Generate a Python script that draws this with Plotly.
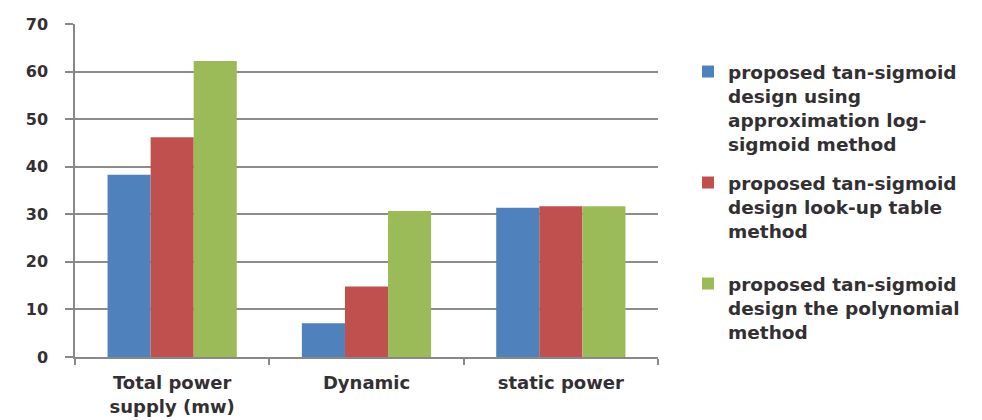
import plotly.graph_objects as go

categories = ["Total power<br>supply (mw)", "Dynamic", "static power"]
series_names = [
    "proposed tan-sigmoid<br>design using<br>approximation log-<br>sigmoid method",
    "proposed tan-sigmoid<br>design look-up table<br>method",
    "proposed tan-sigmoid<br>design the polynomial<br>method",
]
log_sigmoid = [38.3, 7.1, 31.4]
lookup_table = [46.2, 14.8, 31.7]
polynomial = [62.2, 30.7, 31.7]
y_ticks = [0, 10, 20, 30, 40, 50, 60, 70]

colors = ["#4F81BD", "#C0504D", "#9BBB59"]
values = [log_sigmoid, lookup_table, polynomial]
legends = ["legend", "legend2", "legend3"]

fig = go.Figure()
for name, vals, col, lg in zip(series_names, values, colors, legends):
    fig.add_trace(go.Bar(x=categories, y=vals, name=name, marker_color=col,
                         marker_line_width=0, legend=lg))

font_family = "DejaVu Sans"
text_color = "#333033"
legend_font = dict(family=font_family, size=18.5, color=text_color, weight="bold")
W, L, R, T, B = 982, 75, 324, 24, 63
pw = W - L - R
ph = 420 - T - B

def px2paper_x(px):
    return (px - L) / pw

def px2paper_y(py):
    return (420 - B - py) / ph

legend_tops = [53, 164, 265]
leg = {}
for lg, top in zip(legends, legend_tops):
    leg[lg] = dict(x=px2paper_x(688), y=px2paper_y(top), xanchor="left", yanchor="top",
                   font=legend_font, bgcolor="rgba(0,0,0,0)", itemwidth=30,
                   tracegroupgap=0, valign="top")

fig.update_layout(
    width=W, height=420,
    margin=dict(l=L, r=R, t=T, b=B, pad=0, autoexpand=False),
    plot_bgcolor="white", paper_bgcolor="white",
    bargap=0.335, bargroupgap=0,
    barmode="group",
    showlegend=True,
    **leg,
)
fig.update_xaxes(
    automargin=False,
    showline=True, linecolor="#888888", linewidth=1.5,
    ticks="outside", tickson="boundaries", ticklen=6, tickcolor="#888888", tickwidth=1.5,
    tickfont=dict(family=font_family, size=18, color=text_color, weight="bold"),
    ticklabelstandoff=9,
)
fig.update_yaxes(
    automargin=False,
    range=[0, 70], tickvals=y_ticks,
    showgrid=True, gridcolor="#8C8C8C", gridwidth=1.5,
    showline=True, linecolor="#888888", linewidth=1.5,
    ticks="outside", ticklen=8, tickcolor="#888888", tickwidth=1.5,
    tickfont=dict(family=font_family, size=16, color=text_color, weight="bold"),
    ticklabelstandoff=14,
    zeroline=False,
)
fig.write_html("out.html")
